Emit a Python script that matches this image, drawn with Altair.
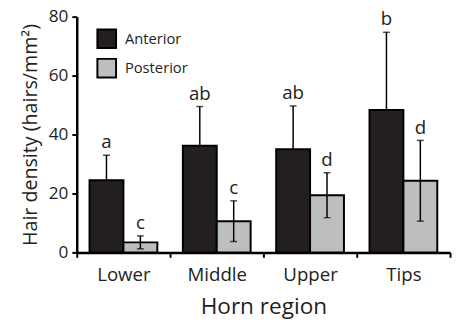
import altair as alt
import pandas as pd

regions = ["Lower", "Middle", "Upper", "Tips"]
sides = ["Anterior", "Posterior"]
anterior = [24.5, 36.2, 35.0, 48.3]
anterior_err = [8.5, 13.3, 14.7, 26.4]
posterior = [3.4, 10.6, 19.4, 24.3]
posterior_err = [2.2, 6.9, 7.6, 13.7]
letters_ant = ["a", "ab", "ab", "b"]
letters_post = ["c", "c", "d", "d"]
y_ticks = [0, 10, 20, 30, 40, 50, 60, 70, 80]

rows = []
for i, r in enumerate(regions):
    for side, m, e, l in (("Anterior", anterior[i], anterior_err[i], letters_ant[i]),
                          ("Posterior", posterior[i], posterior_err[i], letters_post[i])):
        # anterior bars only show the upper whisker (lower one hidden in the dark bar)
        lo = m if side == "Anterior" else m - e
        rows.append({"region": r, "side": side, "mean": m, "lo": lo, "hi": m + e, "letter": l})
df = pd.DataFrame(rows)

FONT = "Open Sans"
INK = "#231f20"

base = alt.Chart(df).encode(
    x=alt.X("region:N", sort=regions,
            scale=alt.Scale(paddingInner=0, paddingOuter=0),
            axis=alt.Axis(title="Horn region", labelAngle=0, tickBand="extent",
                          labelFontSize=19, titleFontSize=23, labelPadding=9,
                          titlePadding=11)),
    xOffset=alt.XOffset("side:N", sort=sides,
                        scale=alt.Scale(paddingInner=0, paddingOuter=0.377)),
)

yscale = alt.Scale(domain=[0, 80], nice=False)

bars = base.mark_bar(stroke="black", strokeWidth=2).encode(
    y=alt.Y("mean:Q", scale=yscale,
            axis=alt.Axis(title="Hair density (hairs/mm²)", values=y_ticks,
                          labelExpr="datum.value % 20 == 0 ? datum.label : ''",
                          labelFontSize=17.5, titleFontSize=20, labelPadding=4,
                          titlePadding=8)),
    color=alt.Color("side:N", sort=sides,
                    scale=alt.Scale(domain=sides, range=[INK, "#bcbec0"]),
                    legend=alt.Legend(title=None, orient="none", legendX=20, legendY=12,
                                      symbolType="square", symbolSize=361,
                                      symbolStrokeColor="black", symbolStrokeWidth=2,
                                      labelFontSize=15, labelOffset=8, rowPadding=3,
                                      labelFont=FONT, labelColor=INK, padding=0)),
)

rules = base.mark_rule(color="black", strokeWidth=1.5).encode(
    y=alt.Y("lo:Q", scale=yscale), y2="hi:Q")
cap_hi = base.mark_tick(color="black", thickness=1.5, size=7, orient="horizontal").encode(
    y=alt.Y("hi:Q", scale=yscale))
cap_lo = base.mark_tick(color="black", thickness=1.5, size=7, orient="horizontal").encode(
    y=alt.Y("lo:Q", scale=yscale)).transform_filter(alt.datum.side == "Posterior")
text = base.mark_text(font=FONT, fontSize=19, baseline="alphabetic", dy=-7, color=INK).encode(
    y=alt.Y("hi:Q", scale=yscale), text="letter:N")

chart = alt.layer(bars, rules, cap_hi, cap_lo, text).properties(
    width=380, height=240,
    autosize=alt.AutoSizeParams(type="none"),
    padding={"left": 70, "top": 6, "right": 3, "bottom": 66},
).configure_view(stroke=None).configure_axis(
    grid=False, domainColor="black", domainWidth=2.5, tickColor="black", tickWidth=2,
    tickSize=5, labelFont=FONT, titleFont=FONT, labelColor=INK, titleColor=INK,
    titleFontWeight="normal",
)

chart.save("out.html", embed_options={"renderer": "svg", "actions": False})
